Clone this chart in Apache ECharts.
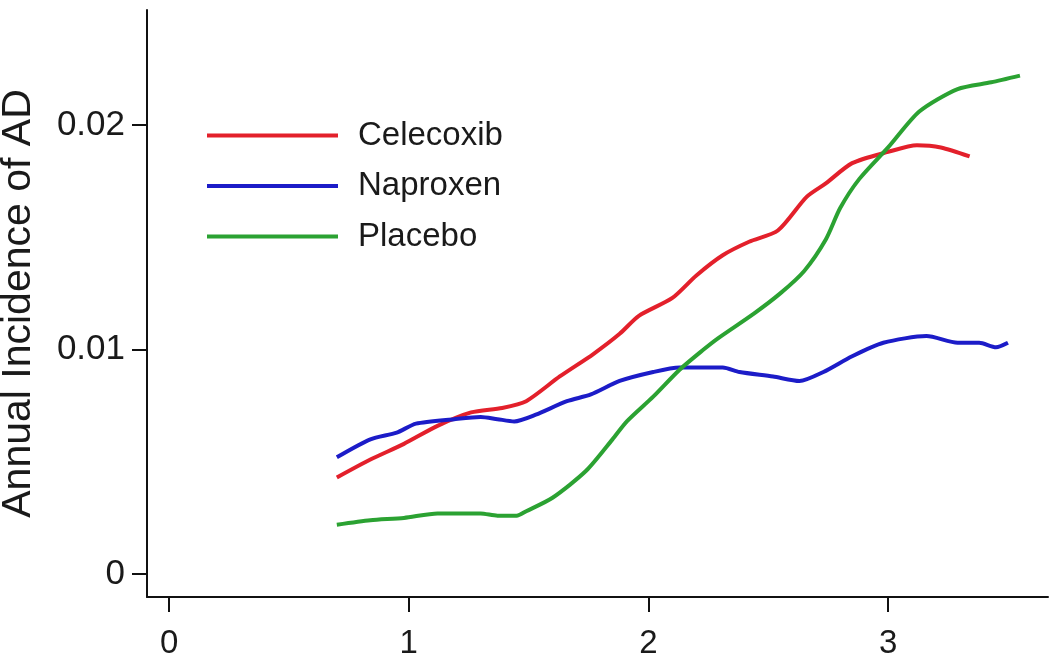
<!DOCTYPE html>
<html>
<head>
<meta charset="utf-8">
<title>Annual Incidence of AD</title>
<script src="https://cdn.jsdelivr.net/npm/echarts@6/dist/echarts.min.js"></script>
<style>
  html, body { margin: 0; padding: 0; background: #fff; }
  #chart { width: 1050px; height: 662px; }
</style>
</head>
<body>
<div id="chart"></div>
<script>
// 数据
var celecoxibX = [0.70, 0.84, 0.98, 1.12, 1.26, 1.39, 1.49, 1.63, 1.77, 1.88, 1.96, 2.10, 2.20, 2.31, 2.42, 2.54, 2.66, 2.74, 2.85, 3.00, 3.12, 3.22, 3.34];
var celecoxibY = [0.0043, 0.0051, 0.0058, 0.0066, 0.0072, 0.0074, 0.0077, 0.0088, 0.0098, 0.0107, 0.0115, 0.0123, 0.0133, 0.0142, 0.0148, 0.0153, 0.0168, 0.0174, 0.0183, 0.0188, 0.0191, 0.0190, 0.0186];

var naproxenX = [0.70, 0.84, 0.95, 1.03, 1.19, 1.30, 1.37, 1.44, 1.53, 1.66, 1.76, 1.88, 2.02, 2.13, 2.31, 2.38, 2.52, 2.63, 2.73, 2.85, 2.98, 3.16, 3.29, 3.38, 3.45, 3.50];
var naproxenY = [0.0052, 0.0060, 0.0063, 0.0067, 0.0069, 0.0070, 0.0069, 0.0068, 0.0071, 0.0077, 0.0080, 0.0086, 0.0090, 0.0092, 0.0092, 0.0090, 0.0088, 0.0086, 0.0090, 0.0097, 0.0103, 0.0106, 0.0103, 0.0103, 0.0101, 0.0103];

var placeboX = [0.70, 0.84, 0.98, 1.12, 1.30, 1.37, 1.45, 1.49, 1.60, 1.74, 1.85, 1.91, 2.02, 2.13, 2.23, 2.29, 2.44, 2.55, 2.65, 2.74, 2.80, 2.88, 3.00, 3.13, 3.29, 3.43, 3.55];
var placeboY = [0.0022, 0.0024, 0.0025, 0.0027, 0.0027, 0.0026, 0.0026, 0.0028, 0.0034, 0.0046, 0.0060, 0.0068, 0.0079, 0.0091, 0.0100, 0.0105, 0.0116, 0.0125, 0.0135, 0.0149, 0.0163, 0.0176, 0.0190, 0.0206, 0.0216, 0.0219, 0.0222];

var xTicks = [0, 1, 2, 3];
var yTicks = [0, 0.01, 0.02];
var seriesNames = ['Celecoxib', 'Naproxen', 'Placebo'];

function pairs(xs, ys) {
    return xs.map(function (x, i) { return [x, ys[i]]; });
}

var font = 'Liberation Sans, Arial, sans-serif';

function lineSeries(name, color, xs, ys) {
    return {
        name: name,
        type: 'line',
        data: pairs(xs, ys),
        smooth: 0.25,
        showSymbol: false,
        symbol: 'none',
        lineStyle: { color: color, width: 4 },
        itemStyle: { color: color }
    };
}

var myChart = echarts.init(document.getElementById('chart'));
var option = {
    animation: false,
    backgroundColor: '#fff',
    grid: { left: 147, right: 2, top: 10, bottom: 65, outerBoundsMode: 'none', containLabel: false },
    legend: {
        orient: 'vertical',
        left: 202,
        top: 108,
        icon: 'rect',
        itemWidth: 131,
        itemHeight: 4,
        itemGap: 5.5,
        data: seriesNames,
        textStyle: { fontFamily: font, fontSize: 33, lineHeight: 33, color: '#1a1a1a', padding: [12, 0, 0, 15] }
    },
    xAxis: {
        type: 'value',
        min: -0.092,
        max: 3.667,
        splitLine: { show: false },
        axisLine: { onZero: false, lineStyle: { color: '#111', width: 2 } },
        axisTick: { customValues: xTicks, length: 15, lineStyle: { color: '#111', width: 2 } },
        axisLabel: { customValues: xTicks, margin: 30, fontFamily: font, fontSize: 33, color: '#1a1a1a' }
    },
    yAxis: {
        type: 'value',
        min: -0.00102,
        max: 0.02512,
        name: 'Annual Incidence of AD',
        nameLocation: 'middle',
        nameRotate: 90,
        nameGap: 108,
        nameTextStyle: { fontFamily: font, fontSize: 41, color: '#1a1a1a' },
        splitLine: { show: false },
        axisLine: { onZero: false, lineStyle: { color: '#111', width: 2 } },
        axisTick: { customValues: yTicks, length: 15, lineStyle: { color: '#111', width: 2 } },
        axisLabel: {
            customValues: yTicks,
            margin: 22,
            fontFamily: font,
            fontSize: 35,
            color: '#1a1a1a',
            formatter: function (v) { return v === 0 ? '0' : v.toFixed(2); }
        }
    },
    series: [
        lineSeries('Celecoxib', '#e3202b', celecoxibX, celecoxibY),
        lineSeries('Naproxen', '#1c1cc8', naproxenX, naproxenY),
        lineSeries('Placebo', '#2ba232', placeboX, placeboY)
    ]
};
myChart.setOption(option);
</script>
</body>
</html>
